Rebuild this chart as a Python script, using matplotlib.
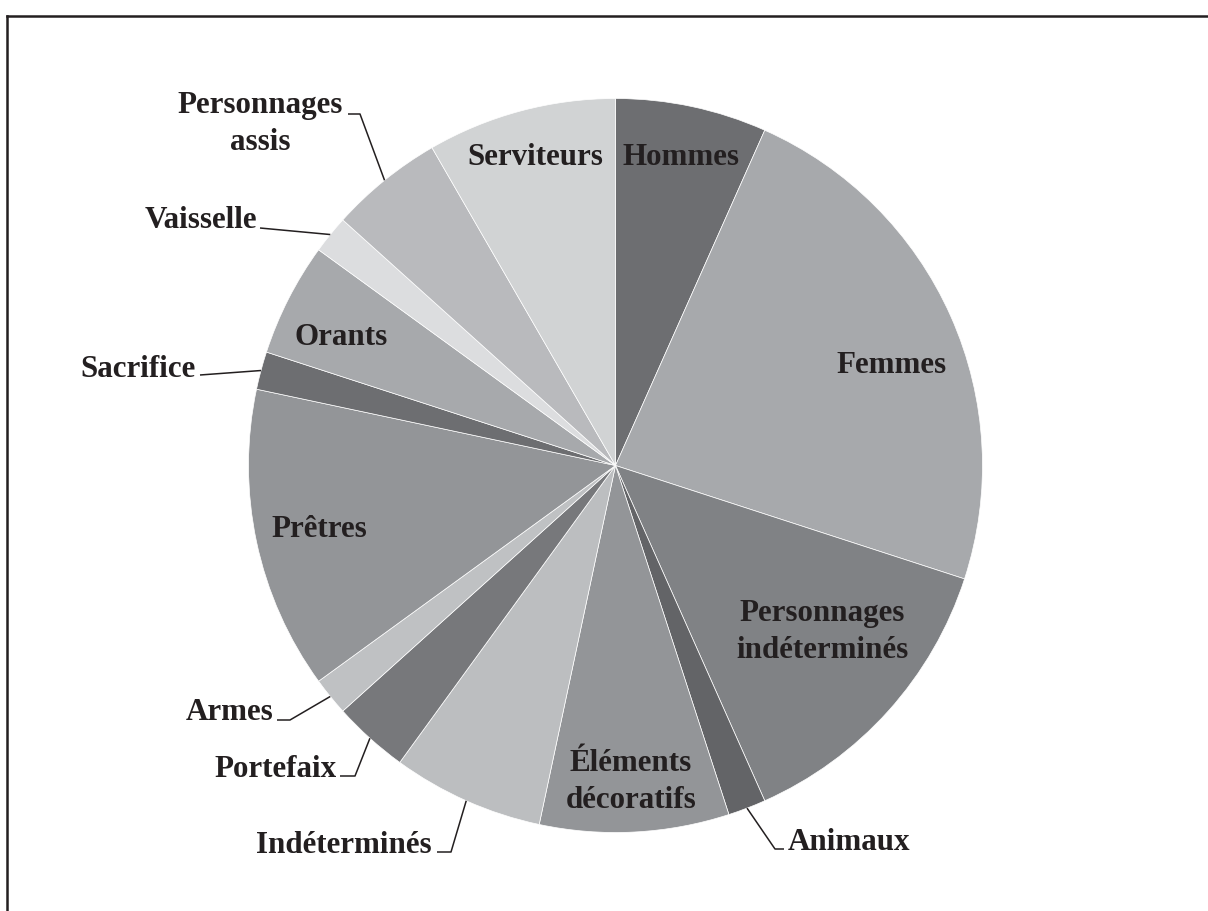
import numpy as np
import matplotlib
matplotlib.use("Agg")
import matplotlib.pyplot as plt
from matplotlib.lines import Line2D

# categories, clockwise from 12 o'clock (counts, total 60)
categories = ["Hommes", "Femmes", "Personnages\nindéterminés", "Animaux",
              "Éléments\ndécoratifs", "Indéterminés", "Portefaix", "Armes",
              "Prêtres", "Sacrifice", "Orants", "Vaisselle",
              "Personnages\nassis", "Serviteurs"]
counts = [4, 14, 8, 1, 5, 4, 2, 1, 8, 1, 3, 1, 3, 5]
colors = ["#6d6e71", "#a7a9ac", "#808285", "#636467", "#939598", "#bcbec0",
          "#77787b", "#bfc1c3", "#939598", "#6d6e71", "#a7a9ac", "#dcdddf",
          "#b9babd", "#d1d3d4"]

# pixel geometry of the reference
W, H = 1208, 911
CX, CY, R = 615.5, 465.5, 367.0


def px(x, y):
    """pixel (from top-left) -> data units (pie radius = 1)"""
    return (x - CX) / R, (CY - y) / R


# label placement: (x, last-line baseline y) in pixels
inside = {
    "Hommes": (681, 165),
    "Femmes": (892, 373),
    "Personnages\nindéterminés": (822, 658),
    "Éléments\ndécoratifs": (631, 808),
    "Prêtres": (319, 537),
    "Orants": (341, 345),
    "Serviteurs": (535, 165),
}
# outside: text pos, ha, leader points after the wedge edge
outside = {
    "Animaux": ((788, 850), "left", [(775, 849), (784, 849)]),
    "Indéterminés": ((432, 853), "right", [(451, 852), (437, 852)]),
    "Portefaix": ((337, 777), "right", [(355, 776), (340, 776)]),
    "Armes": ((273, 720), "right", [(290, 720), (277, 720)]),
    "Sacrifice": ((196, 377), "right", [(200, 375)]),
    "Vaisselle": ((257, 228), "right", [(260, 228)]),
    "Personnages\nassis": ((260, 150), "center", [(360, 114), (348, 114)]),
}

text_color = "#231f20"
font = dict(family=["Liberation Serif", "DejaVu Serif"], weight="bold",
            size=22.3, color=text_color)
spacing = 1.38

fig = plt.figure(figsize=(W / 100, H / 100), dpi=100)
ax = fig.add_axes([0, 0, 1, 1])

wedges, _ = ax.pie(counts, colors=colors, startangle=90, counterclock=False,
                   radius=1, center=(0, 0),
                   wedgeprops=dict(edgecolor="white", linewidth=0.5))

x0, y1 = px(0, 0)
x1, y0 = px(W, H)
ax.set_xlim(x0, x1)
ax.set_ylim(y0, y1)
ax.set_aspect("equal")
ax.axis("off")

for w, name in zip(wedges, categories):
    if name in inside:
        x, y = px(*inside[name])
        ax.text(x, y, name, ha="center", va="baseline", multialignment="center",
                linespacing=spacing, **font)
    else:
        (tx, ty), ha, pts = outside[name]
        mid = np.deg2rad((w.theta1 + w.theta2) / 2)
        xs = [np.cos(mid)] + [px(*p)[0] for p in pts]
        ys = [np.sin(mid)] + [px(*p)[1] for p in pts]
        ax.plot(xs, ys, color=text_color, lw=1.1, solid_capstyle="butt")
        x, y = px(tx, ty)
        ax.text(x, y, name, ha=ha, va="baseline", multialignment="center",
                linespacing=spacing, **font)

# frame (top and left only)
fig.add_artist(Line2D([7 / W, 1], [1 - 16 / H, 1 - 16 / H], color="#231f20", lw=1.8,
                      transform=fig.transFigure))
fig.add_artist(Line2D([7 / W, 7 / W], [0, 1 - 16 / H], color="#231f20", lw=1.8,
                      transform=fig.transFigure))

fig.savefig("out.png", dpi=100, facecolor="white")
